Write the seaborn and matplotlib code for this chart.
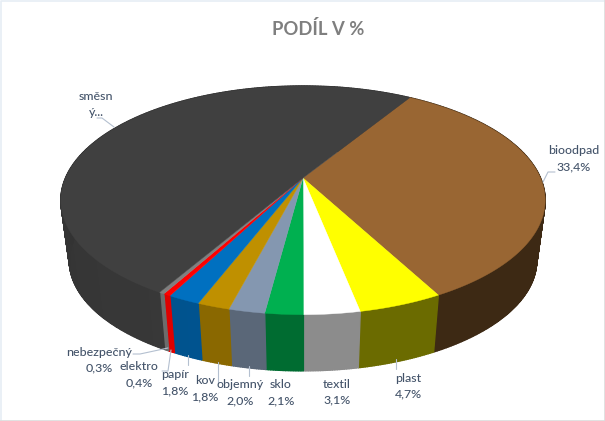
"""
3D style pie chart of the waste shares, drawn from polygons on a flat axes
"""

import numpy as np
import matplotlib
matplotlib.use("Agg")
import matplotlib.pyplot as plt
import seaborn as sns

sns.set_theme(style="white")
plt.rcParams['font.family'] = ['Lato', 'DejaVu Sans']

# Data
categories = ["bioodpad", "plast", "textil", "sklo", "objemný", "kov", "papír",
              "elektro", "nebezpečný", "směsn"]
shares = [33.4, 4.7, 3.1, 2.1, 2.0, 1.8, 1.8, 0.4, 0.3, 50.4]
share_labels = ["33,4%", "4,7%", "3,1%", "2,1%", "2,0%", "1,8%", "1,8%", "0,4%", "0,3%", "ý..."]

# Styles
top_colors = ["#996633", "#ffff00", "#ffffff", "#00b050", "#8497b0",
              "#bf9000", "#0070c0", "#ff0000", "#7f7f7f", "#404040"]
side_factors = [0.40, 0.42, 0.50, 0.56, 0.62, 0.66, 0.68, 0.80, 0.78, 0.80]
label_centers = [(574, 151), (408, 378), (337, 384), (281, 385), (240, 385),
                 (205, 381), (175, 375), (139, 367), (99, 352), (96, 96)]
leaders = [[(543, 182), (548, 172), (555, 172)],
           [(396, 359), (396, 369)],
           None,
           None,
           [(249, 366), (249, 376)],
           [(218, 362), (218, 383)],
           [(188, 355), (188, 365)],
           [(171, 350), (168, 371), (162, 371)],
           [(168, 348), (140, 354), (133, 354)],
           [(114, 127), (102, 118), (97, 118)]]

TEXT_COLOR = "#44546a"
LEADER_COLOR = "#b4c0d0"

# Perspective of the disk, in pixels of the 605x421 picture
CENTER_X, CENTER_Y = 303, 178
RADIUS_X, RADIUS_Y = 237.5, 110
TILT = 0.195
START_ANGLE = -58.4
BOTTOM_SCALE = 0.965
BOTTOM_CENTER_Y = 239


def project(angles, scale=1.0, center_y=CENTER_Y):
    """Project points on the rim of the unit disk to the picture"""
    u, v = np.cos(angles), np.sin(angles)
    w = 1 - TILT * v
    return (CENTER_X + scale * RADIUS_X * u / w,
            center_y + scale * RADIUS_Y * v / w)


def shade(color, factor):
    rgb = np.array(matplotlib.colors.to_rgb(color))
    return tuple(np.clip(rgb * factor, 0, 1))


fig = plt.figure(figsize=(6.05, 4.21), dpi=100, facecolor="white")
ax = fig.add_axes([0, 0, 1, 1])
ax.set_xlim(0, 605)
ax.set_ylim(421, 0)
ax.axis("off")

edges = np.radians(START_ANGLE + np.concatenate([[0], np.cumsum(shares)]) * 3.6)

# Side wall first, the top surface covers whatever is behind it
for i, color in enumerate(top_colors):
    angles = np.linspace(edges[i], edges[i + 1], max(int(shares[i] * 8), 6))
    top_x, top_y = project(angles)
    low_x, low_y = project(angles, BOTTOM_SCALE, BOTTOM_CENTER_Y)
    for j in range(len(angles) - 1):
        # slight lightening towards the left hand side of the wall
        glow = 1 + 0.10 * np.sin(angles[j]) * (np.cos(angles[j]) < 0.2)
        face = shade(color, side_factors[i] * glow)
        ax.fill([top_x[j], top_x[j + 1], low_x[j + 1], low_x[j]],
                [top_y[j], top_y[j + 1], low_y[j + 1], low_y[j]],
                color=face, lw=1.0, zorder=2)

for i, color in enumerate(top_colors):
    angles = np.linspace(edges[i], edges[i + 1], max(int(shares[i] * 8), 6))
    rim_x, rim_y = project(angles)
    ax.fill(np.r_[CENTER_X, rim_x], np.r_[CENTER_Y, rim_y], color=color, lw=0.3, zorder=3)

for points in leaders:
    if points:
        xs, ys = zip(*points)
        ax.plot(xs, ys, color=LEADER_COLOR, lw=0.8, zorder=4)

# name and share are separate texts, one line each
for name, value, (x, y) in zip(categories, share_labels, label_centers):
    ax.text(x, y, name, ha="center", va="center", color=TEXT_COLOR,
            fontsize=8.9, fontweight="medium", zorder=5)
    ax.text(x, y + 16, value, ha="center", va="center", color=TEXT_COLOR,
            fontsize=8.9, fontweight="medium", zorder=5)

ax.text(318, 29, "PODÍL V %", ha="center", va="center", color="#7f7f7f",
        fontsize=13.2, fontweight="bold")

# thin frame of the chart area
ax.plot([0.5, 0.5, 605], [421, 0.5, 0.5], color="#e6edf5", lw=1.2, zorder=1)
ax.plot([604.5, 604.5, 0], [0, 420.5, 420.5], color="#dcdcdc", lw=1.2, zorder=1)

fig.savefig("out.png", dpi=100)
